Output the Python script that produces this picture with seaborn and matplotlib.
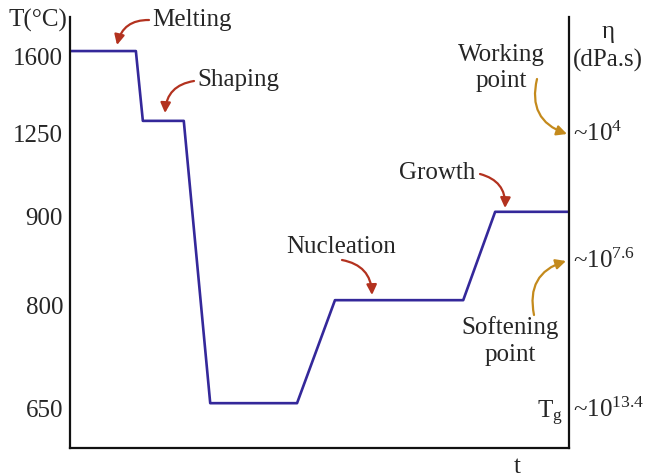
import numpy as np
import pandas as pd
import matplotlib
matplotlib.use("Agg")
import matplotlib.pyplot as plt
import matplotlib.transforms as mtransforms
import seaborn as sns

# valeurs (t en unites arbitraires 0-100)
time_pts = [0, 13.2, 14.6, 22.8, 28.1, 45.5, 53.1, 78.8, 85.2, 100]
temp_pts = [1600, 1600, 1250, 1250, 650, 650, 800, 800, 900, 900]
temp_ticks = [650, 800, 900, 1250, 1600]
stage_labels = ["Melting", "Shaping", "Nucleation", "Growth"]
visc_labels = [r"~$10^{4}$", r"~$10^{7.6}$", r"~$10^{13.4}$"]

# echelle schematique : chaque palier a sa propre hauteur
level_height = [0.104, 0.343, 0.548, 0.759, 0.921]
scale_T = [500] + temp_ticks + [1700]
scale_h = [0.0] + level_height + [1.0]


def fwd(T):
    return np.interp(T, scale_T, scale_h)


def inv(h):
    return np.interp(h, scale_h, scale_T)


df = pd.DataFrame({"t": time_pts, "T": temp_pts})

sns.set_style("ticks")
plt.rcParams["font.family"] = ["Liberation Serif", "DejaVu Serif"]
plt.rcParams["mathtext.fontset"] = "custom"
plt.rcParams["mathtext.rm"] = "Liberation Serif"
plt.rcParams["mathtext.it"] = "Liberation Serif:italic"

H = 477
fig = plt.figure(figsize=(6.48, 4.77), dpi=100)
ax = fig.add_axes([70 / 648, 28 / 477, 499 / 648, 431 / 477])
ax.set_yscale("function", functions=(fwd, inv))

sns.lineplot(data=df, x="t", y="T", sort=False, estimator=None,
             color="#34289a", linewidth=1.9, ax=ax)

ax.set_xlim(0, 100)
ax.set_ylim(500, 1700)
ax.set_xticks([])
ax.set_yticks(temp_ticks)
ax.set_yticklabels([str(v) for v in temp_ticks], fontsize=18)
ax.tick_params(axis="y", length=0, pad=5)
ax.set_xlabel("")
ax.set_ylabel("")
for lab in ax.get_yticklabels():
    off = -0.04
    if lab.get_text() == "1250":
        off = -0.12
    lab.set_transform(lab.get_transform() + mtransforms.ScaledTranslation(0, off, fig.dpi_scale_trans))

ax.spines["top"].set_visible(False)
for s in ["left", "right", "bottom"]:
    ax.spines[s].set_linewidth(1.6)
    ax.spines[s].set_color("#111111")


def px(x, y):
    return (x, H - y)


red = "#b3321f"
gold = "#c48a1c"
fs = 18

# etapes du traitement
stage_text = [(152, 20, "left"), (197, 80, "left"), (341, 247, "center"), (437, 173, "center")]
stage_arrow = [((149, 21), (117, 46), 0.4), ((194, 82), (165, 114), 0.4),
               ((342, 261), (372, 296), -0.4), ((480, 175), (505, 209), -0.4)]
for lab, (x, y, ha), (a, b, r) in zip(stage_labels, stage_text, stage_arrow):
    fig.text(x / 648, 1 - y / H, lab, fontsize=fs, ha=ha, va="center")
    ax.annotate("", xy=px(*b), xycoords="figure pixels", xytext=px(*a), textcoords="figure pixels",
                arrowprops=dict(arrowstyle="-|>,head_length=0.6,head_width=0.3", color=red, lw=1.6,
                                connectionstyle=f"arc3,rad={r}", shrinkA=0, shrinkB=0))

# points de viscosite
fig.text(501 / 648, 1 - 55 / H, "Working", fontsize=fs, ha="center", va="center")
fig.text(501 / 648, 1 - 81 / H, "point", fontsize=fs, ha="center", va="center")
ax.annotate("", xy=px(567, 135), xycoords="figure pixels", xytext=px(537, 80), textcoords="figure pixels",
            arrowprops=dict(arrowstyle="-|>,head_length=0.6,head_width=0.3", color=gold, lw=1.6,
                            connectionstyle="arc3,rad=0.45", shrinkA=0, shrinkB=0))
fig.text(510 / 648, 1 - 328 / H, "Softening", fontsize=fs, ha="center", va="center")
fig.text(510 / 648, 1 - 355 / H, "point", fontsize=fs, ha="center", va="center")
ax.annotate("", xy=px(566, 262), xycoords="figure pixels", xytext=px(534, 316), textcoords="figure pixels",
            arrowprops=dict(arrowstyle="-|>,head_length=0.6,head_width=0.3", color=gold, lw=1.6,
                            connectionstyle="arc3,rad=-0.45", shrinkA=0, shrinkB=0))

# axe de droite : viscosite
for lab, yb in zip(visc_labels, [141, 268, 417]):
    fig.text(573 / 648, 1 - yb / H, lab, fontsize=fs, ha="left", va="baseline")
fig.text(608 / 648, 1 - 32 / H, "η", fontsize=fs, ha="center", va="center")
fig.text(608 / 648, 1 - 60 / H, "(dPa.s)", fontsize=fs, ha="center", va="center")
fig.text(563 / 648, 1 - 418 / H, r"T$_{\mathrm{g}}$", fontsize=fs, ha="right", va="baseline")

fig.text(38 / 648, 1 - 20 / H, "T(°C)", fontsize=fs, ha="center", va="center")
fig.text(517 / 648, 1 - 467 / H, "t", fontsize=fs, ha="center", va="center")

fig.savefig("out.png", dpi=100)
